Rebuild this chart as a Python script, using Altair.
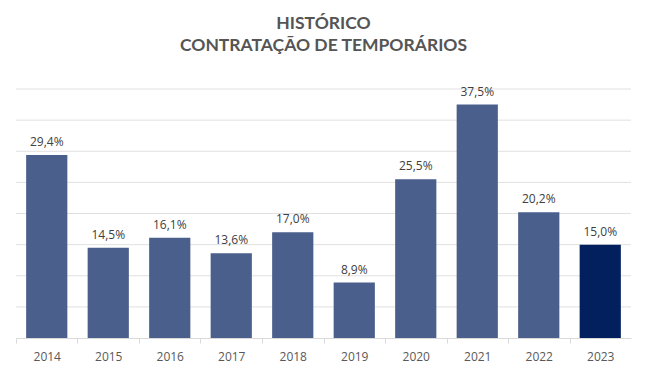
import altair as alt
import pandas as pd

years = ["2014", "2015", "2016", "2017", "2018", "2019", "2020", "2021", "2022", "2023"]
values = [29.4, 14.5, 16.1, 13.6, 17.0, 8.9, 25.5, 37.5, 20.2, 15.0]
labels = ["29,4%", "14,5%", "16,1%", "13,6%", "17,0%", "8,9%", "25,5%", "37,5%", "20,2%", "15,0%"]
highlight = [False] * 9 + [True]
grid_values = [5, 10, 15, 20, 25, 30, 35, 40]

df = pd.DataFrame({"ano": years, "valor": values, "rotulo": labels, "destaque": highlight})
gdf = pd.DataFrame({"g": grid_values})

W, H = 615, 249
step = W / len(years)

x = alt.X("ano:N", sort=years, title=None,
          scale=alt.Scale(paddingInner=0.33, paddingOuter=0.165),
          axis=alt.Axis(labelAngle=0, labelFont="Open Sans", labelFontSize=12,
                        labelColor="#595959", labelPadding=8,
                        domainColor="#d9d9d9", tickColor="#d9d9d9", tickSize=5,
                        tickOffset=-step / 2, labelOffset=step / 2, grid=False))
yscale = alt.Scale(domain=[0, 40])
y = alt.Y("valor:Q", title=None, scale=yscale, axis=None)

grid = alt.Chart(gdf).mark_rule(color="#e0e0e0", strokeWidth=1).encode(
    y=alt.Y("g:Q", scale=yscale, axis=None)
)

base = alt.Chart(df)

bars = base.mark_bar().encode(
    x=x, y=y,
    color=alt.Color("destaque:N", legend=None,
                    scale=alt.Scale(domain=[False, True], range=["#4a5f8c", "#03205e"])),
)

text = base.mark_text(dy=-13, font="Open Sans", fontSize=12, color="#404040").encode(
    x=alt.X("ano:N", sort=years), y="valor:Q", text="rotulo:N"
)

chart = alt.layer(grid, bars, text).properties(
    width=W, height=H,
    padding={"left": 8, "top": 81, "right": 9, "bottom": 36},
    autosize=alt.AutoSizeParams(type="none"),
    title=alt.TitleParams(
        text=["HISTÓRICO", "CONTRATAÇÃO DE TEMPORÁRIOS"],
        font="Lato", fontSize=17.5, fontWeight="bold", color="#555555",
        anchor="middle", offset=31, lineHeight=22,
    ),
).configure_view(stroke=None)

chart.save("out.html", embed_options={"renderer": "svg", "actions": False})
